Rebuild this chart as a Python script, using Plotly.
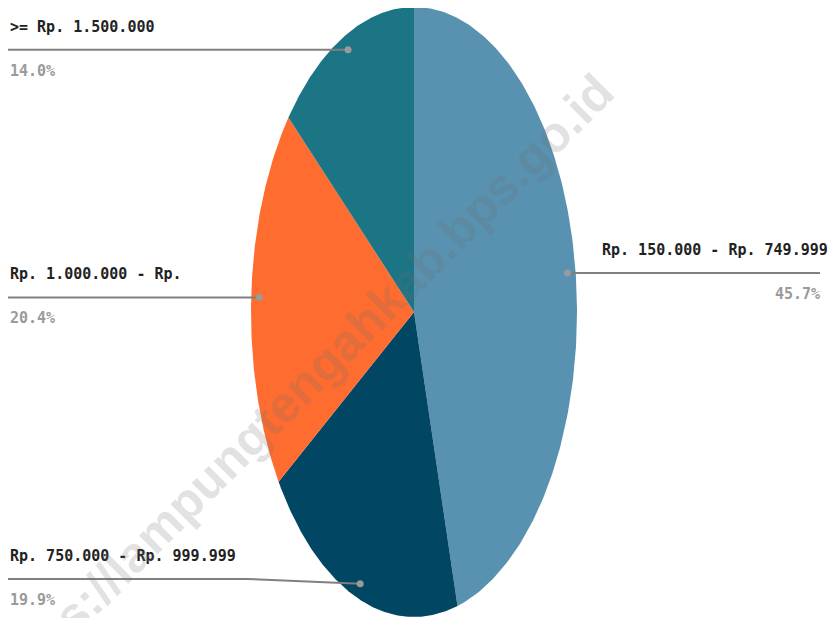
import numpy as np
import plotly.graph_objects as go

categories = ["Rp. 150.000 - Rp. 749.999", "Rp. 750.000 - Rp. 999.999",
              "Rp. 1.000.000 - Rp.", ">= Rp. 1.500.000"]
values = [45.7, 19.9, 20.4, 14.0]
colors = ["#5892b0", "#014662", "#fe6c30", "#1b7585"]
watermark = "https://lampungtengahkab.bps.go.id"

# page is offset by the 8px body margin; axes are set so data units = screen pixels
W, H = 830, 610
X0, Y0 = 8, 8
cx, cy, rx, ry = 414, 312, 163, 305

fig = go.Figure()
total = sum(values)
cum = 0.0
anchors = []
for cat, v, col in zip(categories, values, colors):
    a0 = cum / total * 2 * np.pi
    a1 = (cum + v) / total * 2 * np.pi
    t = np.linspace(a0, a1, 200)
    xs = np.concatenate([[cx], cx + rx * np.sin(t), [cx]])
    ys = np.concatenate([[cy], cy - ry * np.cos(t), [cy]])
    fig.add_trace(go.Scatter(x=xs, y=ys, fill="toself", fillcolor=col, mode="lines",
                             line=dict(width=0, color=col), hoverinfo="skip", showlegend=False))
    am = (cum + v / 2) / total * 2 * np.pi
    anchors.append((cx + 0.95 * rx * np.sin(am), cy - 0.95 * ry * np.cos(am)))
    cum += v

FONT = "DejaVu Sans Mono, Liberation Mono, monospace"
label_font = dict(family=FONT, size=15, color="#222222", weight="bold")
pct_font = dict(family=FONT, size=15, color="#9a9a9a", weight="bold")

# leader line settings: (side, line y, elbow x)
leader = {
    0: ("right", None, 820),
    1: ("left", 579, 247),
    2: ("left", None, 8),
    3: ("left", None, 8),
}

for i, (cat, v) in enumerate(zip(categories, values)):
    ax_, ay_ = anchors[i]
    side, ly, ex = leader[i]
    if side == "right":
        lxs = [ax_, ex]
        lys = [ay_, ay_]
        tx, anc = 830, "right"
        px = 822
        ly_ = ay_
    else:
        if ly is None:
            lxs = [ax_, 8]
            lys = [ay_, ay_]
            ly_ = ay_
        else:
            lxs = [ax_, ex, 8]
            lys = [ay_, ly, ly]
            ly_ = ly
        tx, anc = 8, "left"
        px = 8
    fig.add_trace(go.Scatter(x=lxs, y=lys, mode="lines", line=dict(color="#808080", width=2),
                             hoverinfo="skip", showlegend=False))
    fig.add_trace(go.Scatter(x=[ax_], y=[ay_], mode="markers", marker=dict(color="#9a9a9a", size=7),
                             hoverinfo="skip", showlegend=False))
    fig.add_annotation(x=tx, y=ly_ - 23, text=cat, showarrow=False, xanchor=anc, yanchor="middle",
                       font=label_font, xref="x", yref="y")
    fig.add_annotation(x=px, y=ly_ + 21, text=f"{v:.1f}%", showarrow=False, xanchor=anc, yanchor="middle",
                       font=pct_font, xref="x", yref="y")

fig.add_annotation(x=300, y=388, text="<b>" + watermark + "</b>", showarrow=False,
                   textangle=-45, font=dict(family="Liberation Sans, Arial, sans-serif", size=50,
                                            color="rgba(110,110,110,0.2)"),
                   xref="x", yref="y", xanchor="center", yanchor="middle")

fig.update_layout(
    width=W, height=H, margin=dict(l=0, r=0, t=0, b=0),
    paper_bgcolor="white", plot_bgcolor="white",
    xaxis=dict(range=[X0, X0 + W], visible=False, fixedrange=True),
    yaxis=dict(range=[Y0 + H, Y0], visible=False, fixedrange=True),
)

fig.write_html("out.html")
